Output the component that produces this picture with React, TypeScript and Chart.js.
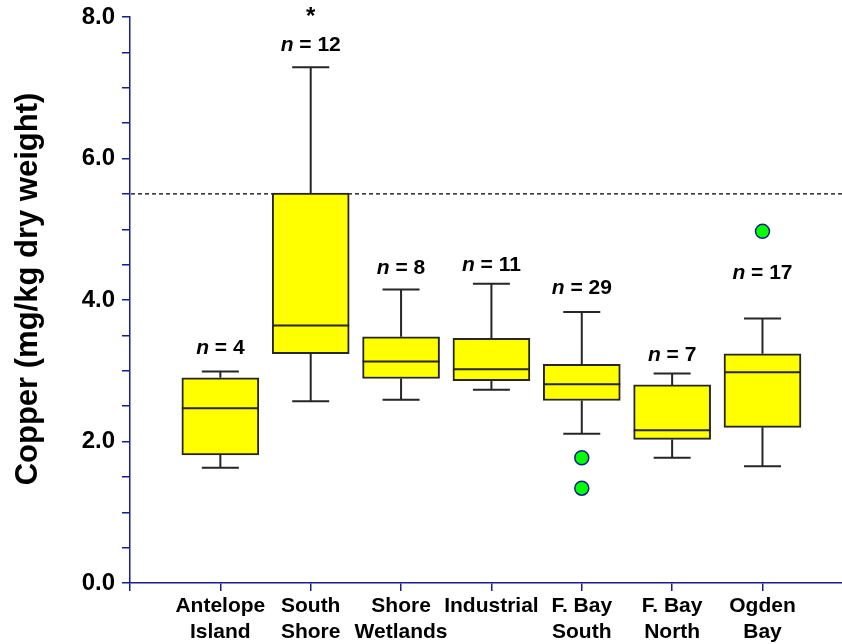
import React, { useEffect, useRef } from 'react';
import { Chart, registerables } from 'chart.js';

Chart.register(...registerables);

const categories: string[][] = [
  ['Antelope', 'Island'],
  ['South', 'Shore'],
  ['Shore', 'Wetlands'],
  ['Industrial'],
  ['F. Bay', 'South'],
  ['F. Bay', 'North'],
  ['Ogden', 'Bay'],
];
const whiskerLow = [1.63, 2.57, 2.59, 2.73, 2.11, 1.77, 1.65];
const quartile1 = [1.81, 3.24, 2.89, 2.86, 2.58, 2.03, 2.2];
const medians = [2.47, 3.64, 3.13, 3.02, 2.81, 2.16, 2.98];
const quartile3 = [2.9, 5.51, 3.48, 3.46, 3.09, 2.8, 3.24];
const whiskerHigh = [2.99, 7.29, 4.15, 4.23, 3.83, 2.96, 3.74];
const outlierCategory = [5, 5, 7];
const outlierValues = [1.77, 1.34, 4.97];
const sampleCounts = [4, 12, 8, 11, 29, 7, 17];
const countLabelValues = [3.23, 7.52, 4.37, 4.41, 4.08, 3.14, 4.29];
const asteriskCategory = 2;
const asteriskValue = 7.9;
const thresholdValue = 5.5;
const yTickLabels = ['0.0', '2.0', '4.0', '6.0', '8.0'];
const yTitle = 'Copper (mg/kg dry weight)';

const FONT = "'Liberation Sans', Arial, Helvetica, sans-serif";
const NAVY = '#1c1c8c';

const overlayPlugin = {
  id: 'boxOverlay',
  beforeDatasetsDraw(chart: any) {
    const { ctx, chartArea, scales } = chart;
    const y = scales.y.getPixelForValue(thresholdValue);
    ctx.save();
    ctx.strokeStyle = '#000';
    ctx.lineWidth = 1.3;
    ctx.setLineDash([4, 3]);
    ctx.beginPath();
    ctx.moveTo(chartArea.left + 1, y);
    ctx.lineTo(chartArea.right, y);
    ctx.stroke();
    ctx.restore();
  },
  afterDatasetsDraw(chart: any) {
    const { ctx, scales } = chart;
    const xs = scales.x;
    const ys = scales.y;
    const capHalf = 18.5;
    const boxHalf = 38.5;
    ctx.save();
    ctx.strokeStyle = '#262626';
    ctx.lineWidth = 2;
    for (let i = 0; i < categories.length; i++) {
      const cx = xs.getPixelForValue(i + 1);
      const yLo = ys.getPixelForValue(whiskerLow[i]);
      const yQ1 = ys.getPixelForValue(quartile1[i]);
      const yMed = ys.getPixelForValue(medians[i]);
      const yQ3 = ys.getPixelForValue(quartile3[i]);
      const yHi = ys.getPixelForValue(whiskerHigh[i]);
      ctx.beginPath();
      ctx.moveTo(cx, yQ3);
      ctx.lineTo(cx, yHi);
      ctx.moveTo(cx - capHalf, yHi);
      ctx.lineTo(cx + capHalf, yHi);
      ctx.moveTo(cx, yQ1);
      ctx.lineTo(cx, yLo);
      ctx.moveTo(cx - capHalf, yLo);
      ctx.lineTo(cx + capHalf, yLo);
      ctx.moveTo(cx - boxHalf, yMed);
      ctx.lineTo(cx + boxHalf, yMed);
      ctx.stroke();
    }
    // n labels
    ctx.fillStyle = '#000';
    ctx.textBaseline = 'alphabetic';
    ctx.textAlign = 'left';
    const italicFont = `italic bold 21px ${FONT}`;
    const boldFont = `bold 21px ${FONT}`;
    for (let i = 0; i < categories.length; i++) {
      const cx = xs.getPixelForValue(i + 1);
      const by = ys.getPixelForValue(countLabelValues[i]);
      const rest = ' = ' + sampleCounts[i];
      ctx.font = italicFont;
      const w1 = ctx.measureText('n').width;
      ctx.font = boldFont;
      const w2 = ctx.measureText(rest).width;
      const start = cx - (w1 + w2) / 2;
      ctx.font = italicFont;
      ctx.fillText('n', start, by);
      ctx.font = boldFont;
      ctx.fillText(rest, start + w1, by);
    }
    // asterisk
    ctx.font = `bold 24px ${FONT}`;
    ctx.textAlign = 'center';
    ctx.fillText('*', xs.getPixelForValue(asteriskCategory), ys.getPixelForValue(asteriskValue));
    // y title
    ctx.save();
    ctx.translate(37, 289);
    ctx.rotate(-Math.PI / 2);
    ctx.font = `bold 31px ${FONT}`;
    ctx.textAlign = 'center';
    ctx.textBaseline = 'alphabetic';
    ctx.fillText(yTitle, 0, 0);
    ctx.restore();
    ctx.restore();
  },
};

export default function App() {
  const canvasRef = useRef<HTMLCanvasElement | null>(null);
  useEffect(() => {
    const canvas = canvasRef.current;
    if (!canvas) return;
    const boxData = categories.map((_, i) => ({ x: i + 1, y: [quartile1[i], quartile3[i]] }));
    const outlierData = outlierValues.map((v, i) => ({ x: outlierCategory[i], y: v }));
    const chart = new Chart(canvas, {
      type: 'bar',
      data: {
        datasets: [
          {
            type: 'bar',
            data: boxData as any,
            backgroundColor: '#ffff00',
            borderColor: '#262626',
            borderWidth: 2,
            borderSkipped: false,
            barThickness: 77,
            order: 2,
          } as any,
          {
            type: 'scatter',
            data: outlierData,
            backgroundColor: '#00ff00',
            borderColor: NAVY,
            borderWidth: 1.5,
            pointRadius: 7,
            order: 1,
          } as any,
        ],
      },
      options: {
        responsive: false,
        animation: false,
        layout: { autoPadding: false, padding: { top: 17, right: 0, left: 0, bottom: 0 } },
        plugins: { legend: { display: false }, tooltip: { enabled: false } },
        scales: {
          x: {
            type: 'linear',
            min: 0,
            max: 7.88,
            offset: false,
            afterBuildTicks(scale: any) {
              const ticks = [];
              for (let v = 0; v <= categories.length; v++) ticks.push({ value: v });
              scale.ticks = ticks;
            },
            afterFit(scale: any) {
              scale.height = 61;
            },
            border: { display: true, color: NAVY, width: 1.5 },
            grid: { display: true, offset: false, drawOnChartArea: false, drawTicks: true, tickLength: 8, color: NAVY, lineWidth: 1.5 },
            ticks: {
              autoSkip: false,
              maxRotation: 0,
              padding: 3,
              color: '#000',
              font: { family: FONT, size: 21, weight: 'bold', lineHeight: 1.2 },
              callback: (v: any) => (v >= 1 && v <= categories.length ? categories[v - 1] : ''),
            },
          },
          y: {
            type: 'linear',
            min: 0,
            max: 8,
            afterFit(scale: any) {
              scale.width = 130;
            },
            border: { display: true, color: NAVY, width: 1.5 },
            grid: { display: true, drawOnChartArea: false, drawTicks: true, tickLength: 8, color: NAVY, lineWidth: 1.5 },
            ticks: {
              stepSize: 0.5,
              padding: 7,
              color: '#000',
              font: { family: FONT, size: 24, weight: 'bold', lineHeight: 0.8 },
              callback: (v: any) => (Number(v) % 2 === 0 ? yTickLabels[Number(v) / 2] : ''),
            },
          },
        },
      },
      plugins: [overlayPlugin],
    } as any);
    return () => chart.destroy();
  }, []);
  return (
    <canvas
      ref={canvasRef}
      width={842}
      height={644}
      style={{ position: 'absolute', left: 0, top: 0, width: 842, height: 644 }}
    />
  );
}
